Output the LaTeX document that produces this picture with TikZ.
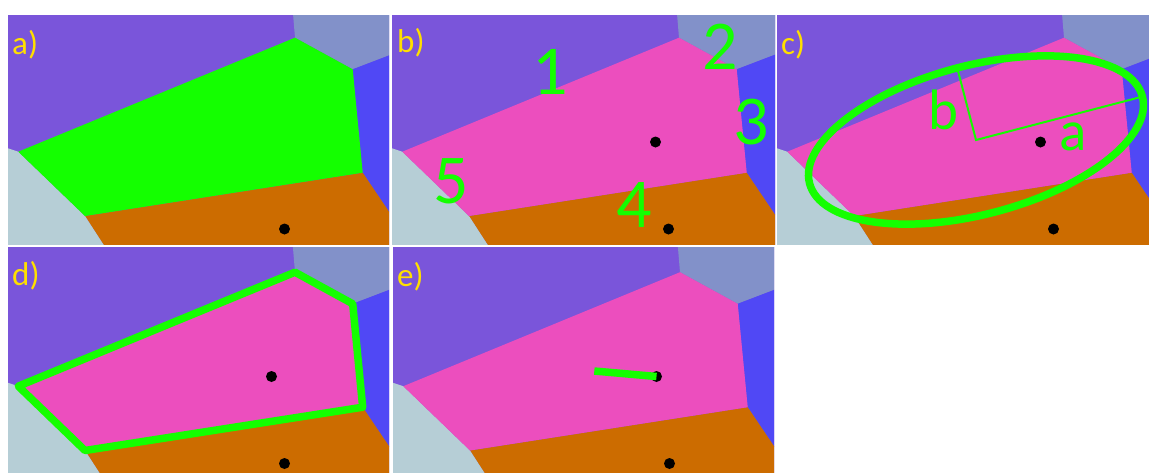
\documentclass[tikz,border=0pt]{standalone}
\usepackage{fontspec}
\setmainfont{Carlito}
\usetikzlibrary{positioning}
\definecolor{cellpurple}{HTML}{7A55DA}
\definecolor{cellsteel}{HTML}{8291C9}
\definecolor{cellblue}{HTML}{5048F5}
\definecolor{cellorange}{HTML}{CC6C00}
\definecolor{cellgrey}{HTML}{B6CED6}
\definecolor{cellpink}{HTML}{EC4EBE}
\definecolor{markgreen}{HTML}{14FF00}
\definecolor{labyellow}{HTML}{FFDF00}

\begin{document}
\begin{tikzpicture}[x=1pt, y=-1pt,
    panlab/.style={anchor=west, inner sep=0pt, text=labyellow, font=\fontsize{33}{33}\selectfont},
    edgenum/.style={inner sep=0pt, text=markgreen, font=\fontsize{70}{70}\selectfont},
    axislab/.style={inner sep=0pt, text=markgreen, font=\fontsize{57}{57}\selectfont},
    seed/.style={circle, fill=black, inner sep=0pt, minimum size=11pt},
    greenline/.style={draw=markgreen, line width=7.5pt}]
% Canvas
\useasboundingbox (0,0) rectangle (1149,472);
\fill[white] (0,0) rectangle (1149,472);

% Five panels: same tessellation, middle cell coloured per panel
\foreach \p/\px/\py/\w/\dy/\cellcol in {a/8/15/381/0/markgreen, b/392/15/383/0/cellpink,
    c/777/15/382/0/cellpink, d/8/247/381/2.5/cellpink, e/393/247/381/2.5/cellpink} {
  \begin{scope}[shift={(\px,\py)}]
    \clip (0,0) rectangle (\w,229);
    \begin{scope}[shift={(0,\dy)}]
      \fill[cellpurple] (0,-5) rectangle (390,235);
      \fill[cellsteel] (284.7,-5) -- (390,-5) -- (390,37) -- (344.7,54.3) -- (287,22.7) -- cycle;
      \fill[cellblue] (344.7,54.3) -- (390,37) -- (390,210) -- (354.7,157.7) -- cycle;
      \fill[cellorange] (77,201) -- (354.7,157.7) -- (390,210) -- (390,235) -- (99,235) -- cycle;
      \fill[cellgrey] (0,133.3) -- (10.3,136.7) -- (77,201) -- (99,235) -- (0,235) -- cycle;
      \fill[\cellcol] (10.3,136.7) -- (287,22.7) -- (344.7,54.3) -- (354.7,157.7) -- (77,201) -- cycle;
      \node[seed] (low-\p) at (276.5,214) {};
    \end{scope}
  \end{scope}
}

% Seeds of the middle cell (hidden in a)
\foreach \p/\px/\py in {b/392/15, c/777/15, d/8/249.5, e/393/249.5} {
  \node[seed] (mid-\p) at (\px+263.5,\py+127) {};
}

% Panel letters
\node[panlab] (lab-a) at (12,45) {a)};
\node[panlab] (lab-b) at (397,43) {b)};
\node[panlab] (lab-c) at (781,45) {c)};
\node[panlab] (lab-d) at (12,276) {d)};
\node[panlab] (lab-e) at (397,277) {e)};

% b) numbered edges
\node[edgenum] (num1) at (550.7,71.7) {1};
\node[edgenum] (num2) at (720,46.7) {2};
\node[edgenum] (num3) at (751.7,121.7) {3};
\node[edgenum] (num4) at (634.3,205) {4};
\node[edgenum] (num5) at (451.7,181.7) {5};

% c) fitted ellipse with semi-axes
\coordinate (ctr) at (976,140);
\coordinate (aend) at (1142.4,96.6);
\coordinate (bend) at (957.2,67.9);
\draw[greenline, rotate around={14.6:(ctr)}] (ctr) ellipse [x radius=172, y radius=74.5];
\draw[markgreen, line width=2pt] (bend) -- (ctr) -- (aend);
\node[axislab] (lab-semib) at (943.3,110) {b};
\node[axislab] (lab-semia) at (1072.7,136.7) {a};

% d) cell outline
\draw[greenline, line join=round] (18.3,386.2) -- (295,272.2) -- (352.7,303.8)
    -- (362.7,407.2) -- (85,450.5) -- cycle;

% e) offset of the seed
\coordinate (tail) at (594.3,371);
\draw[greenline] (tail) -- (mid-e.center);

\end{tikzpicture}
\end{document}
